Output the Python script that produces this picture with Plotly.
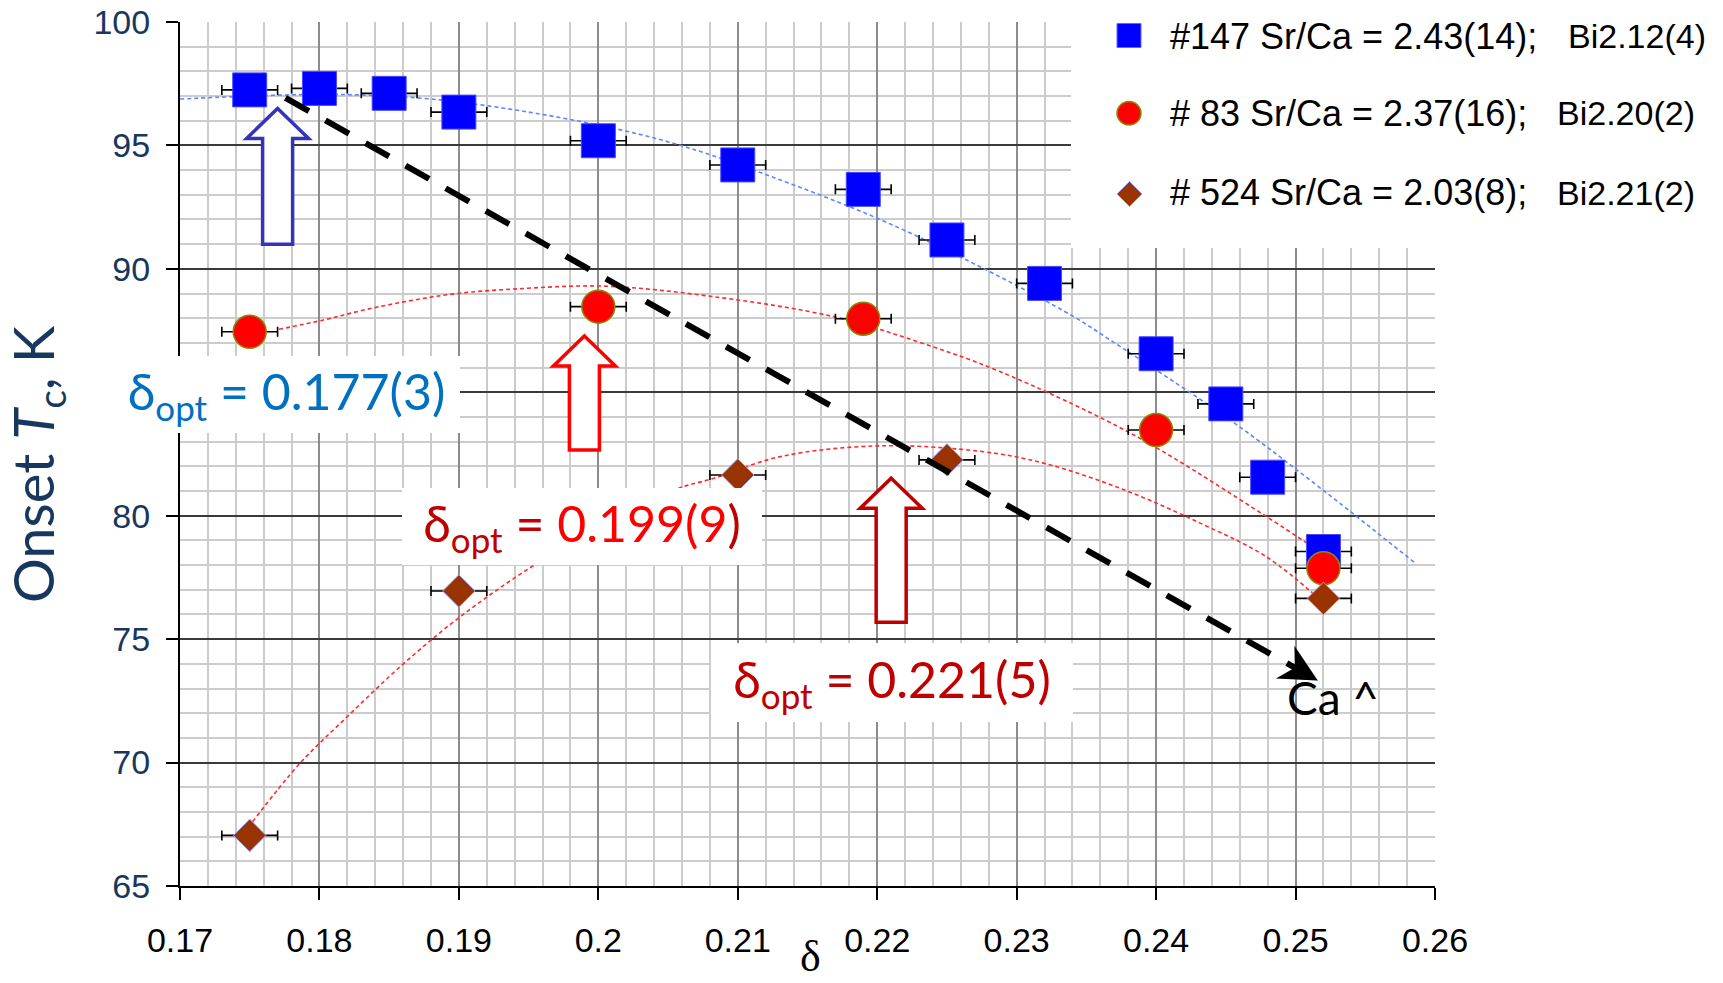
import math
import plotly.graph_objects as go

# ---------------- data ----------------
x_147 = [0.175, 0.180, 0.185, 0.190, 0.200, 0.210, 0.219, 0.225, 0.232, 0.240, 0.245, 0.248, 0.252]
y_147 = [97.25, 97.31, 97.11, 96.35, 95.19, 94.21, 93.22, 91.17, 89.41, 86.56, 84.53, 81.56, 78.55]
ex_147 = [0.002, 0.002, 0.002, 0.002, 0.002, 0.002, 0.002, 0.002, 0.002, 0.002, 0.002, 0.002, 0.002]
ey_147 = [0, 0, 0, 0, 0, 0, 0, 0, 0, 0, 0, 0, 0.5]

x_83 = [0.175, 0.200, 0.219, 0.240, 0.252]
y_83 = [87.45, 88.47, 87.98, 83.47, 77.87]
ex_83 = [0.002, 0.002, 0.002, 0.002, 0.002]

x_524 = [0.175, 0.190, 0.210, 0.225, 0.252]
y_524 = [67.05, 76.95, 81.65, 82.26, 76.65]
ex_524 = [0.002, 0.002, 0.002, 0.002, 0.002]

# trend lines
fit147_x = [0.170, 0.175, 0.180, 0.1831, 0.1882, 0.195, 0.2016, 0.2062, 0.2121, 0.220, 0.2276, 0.2341,
            0.2367, 0.2453, 0.2518, 0.2586]
fit147_y = [96.88, 97.0, 97.07, 97.04, 96.87, 96.35, 95.63, 94.95, 93.80, 92.05, 90.02, 88.06,
            87.12, 83.88, 81.11, 78.07]
fit83_x = [0.1771, 0.1803, 0.1834, 0.1868, 0.1900, 0.1939, 0.2004, 0.2083, 0.2169, 0.2229, 0.2288,
           0.2384, 0.2479, 0.2521]
fit83_y = [87.55, 87.93, 88.36, 88.74, 89.01, 89.18, 89.30, 88.87, 88.06, 87.05, 85.84,
           83.27, 79.97, 78.40]
fit524_x = [0.1752, 0.1786, 0.1820, 0.1858, 0.1901, 0.1954, 0.2004, 0.2054, 0.2083, 0.2131, 0.2201,
            0.2275, 0.2320, 0.2377, 0.2432, 0.2479, 0.2518]
fit524_y = [67.6, 69.97, 71.86, 73.89, 75.91, 78.0, 79.65, 81.04, 81.52, 82.40, 82.83,
            82.6, 82.12, 81.05, 79.69, 78.34, 76.58]

legend_labels = ["#147 Sr/Ca = 2.43(14);", "# 83 Sr/Ca = 2.37(16);", "# 524 Sr/Ca = 2.03(8);"]
legend_bi = ["Bi2.12(4)", "Bi2.20(2)", "Bi2.21(2)"]

delta_opt = [0.177, 0.199, 0.221]
arrow_tip = [96.5, 87.28, 81.52]
arrow_bottom = [91.0, 82.66, 75.68]

x_tickvals = [0.17, 0.18, 0.19, 0.20, 0.21, 0.22, 0.23, 0.24, 0.25, 0.26]
x_ticktext = ["0.17", "0.18", "0.19", "0.2", "0.21", "0.22", "0.23", "0.24", "0.25", "0.26"]
y_tickvals = [65, 70, 75, 80, 85, 90, 95, 100]
y_ticktext = ["65", "70", "75", "80", "", "90", "95", "100"]   # 85 is hidden under the label box

ca_line_start = (0.17756, 96.93)
ca_line_tip = (0.2515, 73.35)

# ---------------- layout geometry ----------------
W, H = 1723, 983
ML, MR, MT, MB = 180, 288, 22, 97
PW = W - ML - MR
PH = H - MT - MB
XR = [0.17, 0.26]
YR = [65, 100]


def pxx(p):
    return (p - ML) / PW


def pxy(p):
    return (H - MB - p) / PH


def dxd(d):
    return d * (XR[1] - XR[0]) / PW


def dyd(d):
    return d * (YR[1] - YR[0]) / PH


NAVY = "#17375E"
SANS = "Liberation Sans, Arial, sans-serif"
GEO = "Lato, sans-serif"

fig = go.Figure()

# trend lines
for fx, fy, col in [(fit147_x, fit147_y, "#5B87FF"), (fit83_x, fit83_y, "#FF2A2A"), (fit524_x, fit524_y, "#FF2A2A")]:
    fig.add_trace(go.Scatter(x=fx, y=fy, mode="lines",
                             line=dict(color=col, width=1.6, dash="4px,3px", shape="spline"),
                             showlegend=False, hoverinfo="skip"))

err_style = dict(type="data", color="black", thickness=1.6, width=5)

fig.add_trace(go.Scatter(
    x=x_147, y=y_147, mode="markers", name=legend_labels[0],
    marker=dict(symbol="square", size=34, color="#0000FF", line=dict(color="#4A4AFF", width=1)),
    error_x=dict(array=ex_147, **err_style),
    error_y=dict(array=ey_147, symmetric=True, type="data", color="black", thickness=1.6, width=5),
    showlegend=False))
fig.add_trace(go.Scatter(
    x=x_83, y=y_83, mode="markers", name=legend_labels[1],
    marker=dict(symbol="circle", size=33, color="#FF0000", line=dict(color="#8A8A00", width=1.5)),
    error_x=dict(array=ex_83, **err_style), showlegend=False))
fig.add_trace(go.Scatter(
    x=x_524, y=y_524, mode="markers", name=legend_labels[2],
    marker=dict(symbol="diamond", size=25, color="#993300", line=dict(color="#9999FF", width=1)),
    error_x=dict(array=ex_524, **err_style), showlegend=False))

shapes = []
annotations = []

# white legend background covering the grid (top right)
shapes.append(dict(type="rect", xref="paper", yref="paper", x0=pxx(1071), x1=pxx(W + 5),
                   y0=pxy(248), y1=pxy(-5), fillcolor="white", line=dict(width=0), layer="above"))

# hollow block arrows at delta_opt
arrow_colors = ["#3333BB", "#FF0000", "#C00000"]
hw, sw = dxd(31), dxd(15)
head_len = dyd(30)
for cx, ty, by, col in zip(delta_opt, arrow_tip, arrow_bottom, arrow_colors):
    hy = ty - head_len
    path = (f"M{cx},{ty} L{cx + hw},{hy} L{cx + sw},{hy} L{cx + sw},{by} "
            f"L{cx - sw},{by} L{cx - sw},{hy} L{cx - hw},{hy} Z")
    shapes.append(dict(type="path", xref="x", yref="y", path=path, fillcolor="white",
                       line=dict(color=col, width=3.5), layer="above"))

# dashed black trend arrow toward "Ca^"
dxp = (ca_line_tip[0] - ca_line_start[0]) / dxd(1)
dyp = -(ca_line_tip[1] - ca_line_start[1]) / dyd(1)   # screen pixels, downward positive
ln = math.hypot(dxp, dyp)
ux, uy = dxp / ln, dyp / ln      # direction (screen)
nx, ny = -uy, ux                 # normal (screen)


def off(px_x, px_y):
    """offset from tip by screen pixels -> data coords"""
    return ca_line_tip[0] + dxd(px_x), ca_line_tip[1] - dyd(px_y)


notch = off(-22 * ux, -22 * uy)
shapes.append(dict(type="line", xref="x", yref="y", x0=ca_line_start[0], y0=ca_line_start[1],
                   x1=notch[0], y1=notch[1], line=dict(color="black", width=6, dash="27px,19px"), layer="above"))
L_head, W_head = 34, 17
wing1 = off(-L_head * ux + W_head * nx, -L_head * uy + W_head * ny)
wing2 = off(-L_head * ux - W_head * nx, -L_head * uy - W_head * ny)
notch_in = off(-24 * ux, -24 * uy)
head_path = (f"M{ca_line_tip[0]},{ca_line_tip[1]} L{wing1[0]},{wing1[1]} L{notch_in[0]},{notch_in[1]} "
             f"L{wing2[0]},{wing2[1]} Z")
shapes.append(dict(type="path", xref="x", yref="y", path=head_path, fillcolor="black",
                   line=dict(color="black", width=1.5), layer="above"))

annotations.append(dict(x=pxx(1285), y=pxy(697), xref="paper", yref="paper", text="Ca ^",
                        showarrow=False, xanchor="left", yanchor="middle",
                        font=dict(family=GEO, size=46, color="black")))

# delta_opt labels
boxes = [
    (286.5, 394.5, 347, 77,
     "<span style='color:#0070C0'>δ<sub>opt</sub> = 0.177(3)</span>"),
    (582, 526.5, 360, 77,
     "<span style='color:#C00000'>δ<sub>opt</sub> =</span> <span style='color:#FF0000'>0.199(9</span><span style='color:#C00000'>)</span>"),
    (892, 682.5, 362, 79,
     "<span style='color:#C00000'>δ<sub>opt</sub> = 0.221(5)</span>"),
]
for cxp, cyp, bw, bh, txt in boxes:
    annotations.append(dict(x=pxx(cxp), y=pxy(cyp), xref="paper", yref="paper", text=txt,
                            showarrow=False, xanchor="center", yanchor="middle",
                            width=bw, height=bh, bgcolor="white", borderpad=0, borderwidth=0,
                            align="center", valign="middle",
                            font=dict(family=GEO, size=50, color="#C00000")))

# manual legend
shapes.append(dict(type="rect", xref="paper", yref="paper", x0=pxx(1117), x1=pxx(1141),
                   y0=pxy(47.5), y1=pxy(23.5), fillcolor="#0000FF", line=dict(color="#6666FF", width=1), layer="above"))
shapes.append(dict(type="circle", xref="paper", yref="paper", x0=pxx(1117), x1=pxx(1141),
                   y0=pxy(125), y1=pxy(101.5), fillcolor="#FF0000", line=dict(color="#8A8A00", width=1.5), layer="above"))
dcx, dcy, dh = 1129.5, 194, 12.5
dpath = (f"M{pxx(dcx)},{pxy(dcy - dh)} L{pxx(dcx + dh)},{pxy(dcy)} "
         f"L{pxx(dcx)},{pxy(dcy + dh)} L{pxx(dcx - dh)},{pxy(dcy)} Z")
shapes.append(dict(type="path", xref="paper", yref="paper", path=dpath, fillcolor="#993300",
                   line=dict(color="#9999FF", width=1), layer="above"))

row_y = [36, 113, 193]
bi_x = [1566, 1555, 1555]
for lab, bi, ry, bx in zip(legend_labels, legend_bi, row_y, bi_x):
    annotations.append(dict(x=pxx(1168), y=pxy(ry), xref="paper", yref="paper", text=lab,
                            showarrow=False, xanchor="left", yanchor="middle",
                            font=dict(family=SANS, size=36, color="black")))
    annotations.append(dict(x=pxx(bx), y=pxy(ry), xref="paper", yref="paper", text=bi,
                            showarrow=False, xanchor="left", yanchor="middle",
                            font=dict(family=SANS, size=34, color="black")))

# axis titles
annotations.append(dict(x=pxx(36), y=pxy(464), xref="paper", yref="paper",
                        text="Onset <i>T</i><sub>c</sub>, K", textangle=-90, showarrow=False,
                        xanchor="center", yanchor="middle",
                        font=dict(family=GEO, size=56, color=NAVY)))
annotations.append(dict(x=pxx(810), y=pxy(956), xref="paper", yref="paper", text="δ",
                        showarrow=False, xanchor="center", yanchor="middle",
                        font=dict(family="Liberation Serif, serif", size=44, color="black")))

fig.update_layout(
    width=W, height=H,
    margin=dict(l=ML, r=MR, t=MT, b=MB, pad=0, autoexpand=False),
    paper_bgcolor="white", plot_bgcolor="white",
    showlegend=False,
    shapes=shapes, annotations=annotations,
    xaxis=dict(range=XR, tickvals=x_tickvals, ticktext=x_ticktext, automargin=False,
               showgrid=True, gridcolor="#8C8C8C", gridwidth=1.6,
               minor=dict(dtick=0.002, tick0=0.17, showgrid=True, gridcolor="#CCCCCC", gridwidth=1.6),
               ticks="outside", ticklen=12, tickwidth=1.6, tickcolor="black",
               showline=True, linecolor="black", linewidth=2, zeroline=False,
               tickfont=dict(family=SANS, size=34, color="black"), ticklabelstandoff=11),
    yaxis=dict(range=YR, tickvals=y_tickvals, ticktext=y_ticktext, automargin=False,
               showgrid=True, gridcolor="#3A3A3A", gridwidth=2,
               minor=dict(dtick=1, tick0=65, showgrid=True, gridcolor="#CCCCCC", gridwidth=1.6),
               ticks="outside", ticklen=12, tickwidth=1.6, tickcolor="black",
               showline=True, linecolor="black", linewidth=2, zeroline=False,
               tickfont=dict(family=SANS, size=34, color=NAVY), ticklabelstandoff=9),
)

fig.write_html("out.html")
